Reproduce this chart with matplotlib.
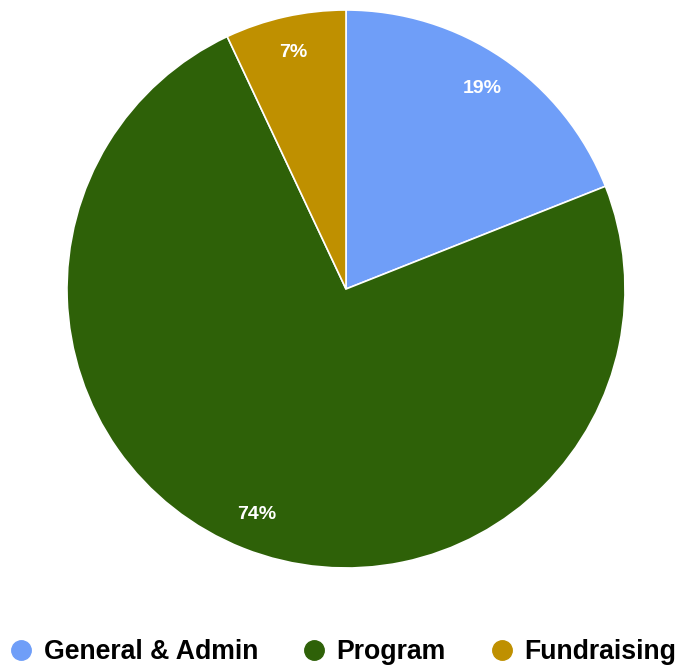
import matplotlib.pyplot as plt
from matplotlib.lines import Line2D

# Data
categories = ['General & Admin', 'Program', 'Fundraising']
shares = [19, 74, 7]
colors = ['#6f9ef8', '#2e6108', '#bf9000']

plt.rcParams['font.family'] = ['Liberation Sans', 'DejaVu Sans']

fig = plt.figure(figsize=(6.8, 6.66), dpi=100)
ax = fig.add_axes([0, 0, 1, 1])

wedges, texts, autotexts = ax.pie(
    shares, colors=colors, startangle=90, counterclock=False,
    center=(346, 377), radius=279,
    autopct='%1.0f%%', pctdistance=0.87,
    wedgeprops=dict(edgecolor='white', linewidth=1.2),
    textprops=dict(color='white', fontsize=14, fontweight='bold'))

ax.set_xlim(0, 680)
ax.set_ylim(0, 666)
ax.set_aspect('auto')
ax.axis('off')

handles = [Line2D([], [], marker='o', linestyle='', markersize=14,
                  markerfacecolor=c, markeredgecolor=c) for c in colors]
fig.legend(handles, categories, loc='center', bbox_to_anchor=(0.503, 14 / 666),
           ncol=3, frameon=False, handletextpad=0.35, columnspacing=1.6,
           handlelength=1.0, borderpad=0.2, prop=dict(size=19.2, weight='bold'))

fig.savefig('out.png', dpi=100)
